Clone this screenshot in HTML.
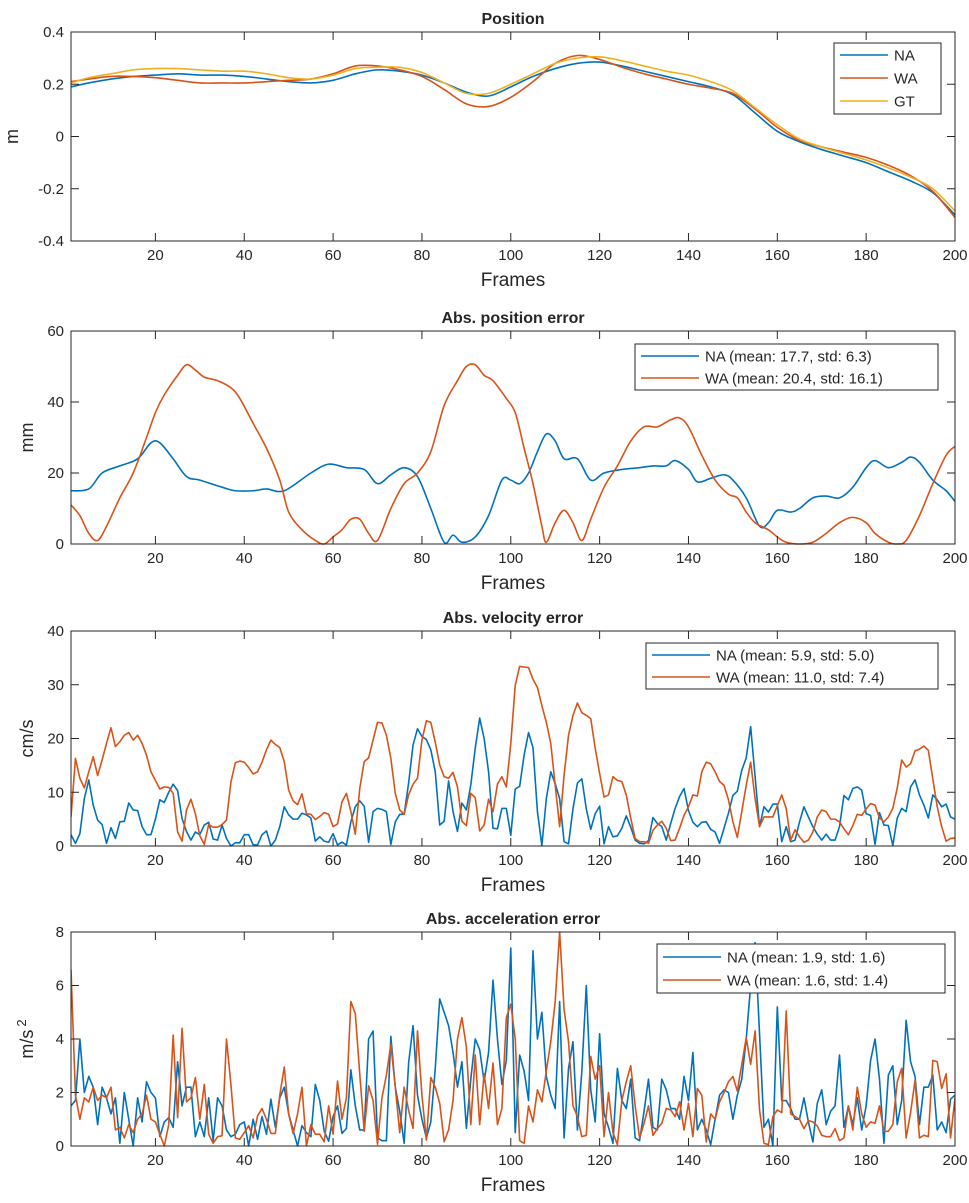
<!DOCTYPE html>
<html><head><meta charset="utf-8">
<style>
html,body{margin:0;padding:0;background:#fff;}
svg{display:block;font-family:"Liberation Sans",Arial,sans-serif;}
</style></head>
<body>
<svg id="fig" width="969" height="1203" viewBox="0 0 969 1203" xmlns="http://www.w3.org/2000/svg"></svg>
<script>
// ---------- DATA ----------
const posFrames = [1,5,10,15,20,25,30,35,40,45,50,55,60,65,70,75,80,85,90,95,100,105,110,115,120,125,130,135,140,145,150,155,160,165,170,175,180,185,190,195,200];
const posNA = [0.19,0.205,0.22,0.23,0.235,0.24,0.235,0.235,0.23,0.22,0.21,0.205,0.215,0.24,0.255,0.25,0.235,0.205,0.17,0.155,0.19,0.23,0.26,0.28,0.285,0.27,0.25,0.23,0.21,0.19,0.16,0.09,0.02,-0.02,-0.05,-0.075,-0.1,-0.135,-0.17,-0.215,-0.3];
const posWA = [0.21,0.22,0.23,0.23,0.225,0.215,0.205,0.205,0.205,0.21,0.215,0.22,0.24,0.27,0.27,0.255,0.23,0.18,0.125,0.115,0.15,0.21,0.28,0.31,0.295,0.265,0.24,0.22,0.2,0.185,0.165,0.105,0.035,-0.015,-0.04,-0.06,-0.08,-0.11,-0.15,-0.21,-0.31];
const posGT = [0.205,0.225,0.24,0.255,0.26,0.26,0.255,0.25,0.25,0.24,0.225,0.22,0.235,0.26,0.265,0.265,0.245,0.205,0.165,0.165,0.2,0.24,0.28,0.3,0.305,0.29,0.27,0.25,0.235,0.21,0.175,0.11,0.045,-0.01,-0.04,-0.065,-0.09,-0.12,-0.155,-0.2,-0.285];

const errFramesNA = [1,5,8,12,16,19,21,24,27,30,35,38,42,45,49,55,59,63,67,70,73,76,79,82,85,87,89,92,95,98,100,102,104,106,108,110,112,115,118,121,125,129,132,135,137,140,142,145,148,150,153,156,158,160,163,165,168,171,174,177,180,182,185,188,190,192,195,198,200];
const errNA = [15,15.5,20,22,24,28.5,28.5,24,19,18,16,15,15,15.5,15,20,22.5,21.5,21,17,19.5,21.5,19,10,0.5,2.5,0.5,2,8,18,18,17,20,26,31,29,24,24,18,20,21,21.5,22,22,23.5,21,17.5,18.5,19.5,18,13,5,6,9.5,9,10,13,13.5,13,16,21.5,23.5,21.5,23,24.5,23,18,15,12];
const errFramesWA = [1,3,5,7,9,12,15,18,20,22,25,27,29,31,34,37,39,42,45,48,50,53,56,58,60,62,64,66,68,70,73,76,79,82,85,88,90,92,94,96,99,101,103,105,107,108,110,112,114,116,118,121,124,127,130,133,136,138,140,143,146,149,151,153,155,158,160,162,165,168,171,174,177,180,182,185,187,189,192,195,198,200];
const errWA = [11,8,3,1,5,13,20,30,37,42,47.5,50.5,49,47,46,44,41,34,27,18,9,4,1,0,2,4,7,7,3,1,10,17,20,26,39,46,50,50.5,47.5,46,41,37,27,17,5,0.5,6,9.5,6,1,7,16,22,29,33,33,35,35.5,33,25,18,14,13,9,6,4,2,0.5,0,0.5,3,6,7.5,6,3,0.5,0,1,8,17,25,27.5];

const velNA = [2.1,0.5,2.3,8.8,12.3,7.6,4.8,4,0.5,3.4,1.4,4.5,4.6,8,6.7,6.6,3.6,2.1,2.1,5,
8.6,8.1,10,11.5,10.3,5.1,2.7,1.1,2.6,2.1,3.9,4.4,1.3,1.1,3.9,1.4,0,0.6,0.6,2.1,
2.1,0.2,0.2,2.1,2.8,0,1.1,3.6,7.3,5.8,5,5,6.1,5.8,5.2,0.9,1.7,0.9,0.7,2.3,
0.2,0.7,0.2,4.5,7.3,8.4,7.4,0.7,6.4,7,6.8,6.4,0.3,4.5,5.9,5.9,11.7,18.8,21.8,20.4,
19.8,17.9,13.8,3.9,4.6,12.1,6.4,2.7,8,6.7,11.4,18.2,23.8,20,13.8,3.3,3.2,7,7,2,
10.6,11.1,16.9,21.1,18.3,6.4,0.1,8.8,13.8,11.6,8.8,0.8,0.4,6.9,11.7,12.5,6.9,3.1,6,7.4,
0.4,3.6,1.7,1.9,3.3,5.6,3.5,1.1,0.5,0.4,1,5.3,4.2,3.6,1.1,4.2,7,9.2,10.7,6.6,
4.4,3.6,4.4,4.5,3.1,2.6,0.5,3.3,6.1,9.4,10.2,14.1,16.4,22.2,12.9,3.6,7.3,6.3,7.8,7.8,
0.8,3.6,0.8,1.1,4.5,7.3,5.4,3.6,2.2,1.1,2.2,1.1,1.1,3.6,9.4,8.6,10.7,11,10.4,6,
5.7,0.3,6.2,3.9,3.8,0.1,5.2,7,6.4,11,12.3,9.5,7.6,5.2,9.5,8.6,7.3,7.8,5.4,5];
const velWA = [5.4,16.3,12.6,10.8,13.8,16.6,13.1,16,19.1,22,18.5,19.4,20.6,21.1,19.7,20.6,19.1,16.9,13.8,12.2,
10.6,11,10.9,9.8,2.6,0.9,6.7,8.7,6,1.9,0.3,4,3.5,3.5,4,4.8,11.9,15.5,15.8,15.6,
14.6,13.4,13.8,15.6,17.9,19.7,18.9,18.3,15.7,10.4,8.4,7.7,9.7,6,5.9,4.9,5.5,6.2,5.9,3.6,
4.1,8.2,9.8,6.4,2.2,10.7,15.7,16.4,19.7,23,22.9,20.6,16.3,9.8,6.7,5.9,9.5,11.5,12.6,19.7,
23.3,23,19.3,15.1,12.9,12.6,13.7,11,4.6,3.8,9.8,9,2.8,3.9,8.7,6.4,11.5,12.9,11,19,
29.9,33.4,33.3,33.2,31,29.5,26.1,23,19.1,11.3,3.6,13.2,20.6,24.3,26.6,24.8,24.3,23.7,18.2,13.5,
9.1,9.5,12.9,12.2,12,9.5,5.2,1.4,0.8,0.8,0.5,2.9,3.9,4.6,3.3,1,1.1,3.3,5.7,7.3,
9.5,9.3,13.8,15.6,15.3,13.8,12,11.3,8.6,4.5,1.6,6.4,11.3,15.6,8.8,3.6,5.4,5.4,5.4,7.5,
9.5,7,1.1,3,1.7,0.7,1.1,2.6,5.4,6.7,6.4,5,5,4.5,3.2,2.1,3.8,5.9,5.7,6.9,
7.9,7.6,5.2,4.5,5.4,7,10.8,16,14.7,15.3,17.7,18,18.6,17.8,12.5,7.3,3.6,0.9,1.4,1.5];

const accNA = [1.5,1.7,4,2,2.6,2.2,0.8,2.2,1.8,1.2,1.8,0.1,2,1,0,1.8,0.9,2.4,2,1.8,
0.35,0.9,1.06,0.7,3.15,1.5,2.2,2.2,0.35,0.9,0.35,1.8,0.2,1.8,1.5,0.6,0.35,0.44,0.8,0.9,
0,1,0.25,1.1,0.44,1.75,0.7,1.8,2.2,1.2,0.6,0,0.76,0.5,0.35,2.3,1.7,0.55,0.18,1.1,
1.5,0.47,0.66,2.85,1.5,0.6,0.6,4,4.3,0.3,0.2,0.2,4.1,2.2,1.3,0.1,3.1,4.5,1.9,1,
0.3,0.9,2.9,5.5,5,4.5,3.5,2.2,3.15,0.66,2.5,4,3.6,2.4,3.5,6.2,4,2.3,3.2,7.4,
0.5,3.4,2.8,1.7,7.3,4,5,2.6,1.9,1.4,5.4,0.3,2.9,3.9,0.6,2.8,6,2.1,0.9,4.2,
1.2,0.7,0.1,2.9,1.7,1.4,2.5,0.3,0.2,1.3,2.5,0.7,0.6,2.5,2.1,1.4,1.4,1,2.6,1.7,
3.5,0.6,1,0.6,0.05,1,1.9,2.1,2,1,1.9,2.5,4,6,7.6,4.2,0.7,1,0,5.2,
1.7,1.7,1.4,1,1,1.8,0.9,0.15,1.6,2.1,0.8,1.3,1.5,3.4,0.7,1.5,0.8,1.8,0.6,1.5,
3.2,4,2.5,0.1,2.65,3,0.8,1.7,4.7,3.15,2.6,0.8,2.2,2.2,2.65,0.6,0.9,0.5,1.75,1.9];
const accWA = [6.6,1.9,1,1.8,1.65,2.2,1.7,1.9,1.8,2.2,0.6,0.7,0.3,0.8,0.5,1,1.2,1.9,1,0.9,
0.44,0,0.8,4.15,1.06,4.4,1.65,1.8,2.56,1,2.3,0.44,0.1,0.35,0.38,4,2.3,0.3,0.25,0.5,
0.76,0.3,1.13,1.4,1,0.47,0.47,1.9,2.95,1.2,0.47,1.2,2.2,0,0.8,0.44,0.44,0.16,1.5,0.44,
2.43,1,1.8,5.4,4.95,2.7,0.55,2.25,1.7,0.06,1.8,2.65,3.8,2.2,0.5,2.2,1.34,0.66,4.3,1.9,
0.22,2.56,2.2,1.6,0.16,0.6,1.7,4,4.8,3.7,0.8,3.4,0.8,2.7,1.4,3.1,0.8,1.4,4.8,5.3,
4,0.2,0.1,1.5,0.9,2.1,1.65,2.8,3.9,5.4,8,5.1,3.9,1.5,1.1,0.35,0.4,3.35,2.5,3,
0.35,2,0.5,0.05,1.7,2.4,3,1.5,0.3,0.85,1.5,0.4,0.65,0.85,1.4,1.35,1.1,1.65,0.6,1.6,
0.35,2.15,1.9,0.15,1.2,1,1.65,2,2.4,2.6,2.05,3.05,4.05,3.05,4.3,1.35,0.1,0.05,1.1,1.35,
1.25,5.05,1.2,1.1,1,0.65,0.95,0.9,0.75,0.4,0.35,0.35,0.65,0.2,0.3,1.5,0.6,2.2,1.2,0.7,
0.9,0.85,1.5,0.55,0.55,0.8,2.4,2.9,0.3,1.25,2.45,0.3,0.4,0.35,3.2,3.15,2.15,2.7,0.3,1.8];

const xTicks = [20,40,60,80,100,120,140,160,180,200];
const posTicks = [-0.4,-0.2,0,0.2,0.4];
const posTickLabels = ["-0.4","-0.2","0","0.2","0.4"];
const errTicks = [0,20,40,60];
const velTicks = [0,10,20,30,40];
const accTicks = [0,2,4,6,8];

// ---------- DRAW ----------
const NS = "http://www.w3.org/2000/svg";
const svg = document.getElementById('fig');
const C = {NA:'#0072BD', WA:'#D95319', GT:'#EDB120'};
const L = 71, R = 955, XMIN = 1, XMAX = 200;
function xs(f){ return L + (f - XMIN) / (XMAX - XMIN) * (R - L); }
function mk(tag, attrs, parent){
  const e = document.createElementNS(NS, tag);
  for (const k in attrs) e.setAttribute(k, attrs[k]);
  (parent || svg).appendChild(e);
  return e;
}
function txt(s, x, y, size, anchor, parent, weight){
  const t = mk('text', {x:x, y:y, 'font-size':size, 'text-anchor':anchor||'middle', fill:'#262626'}, parent);
  if (weight) t.setAttribute('font-weight', weight);
  t.textContent = s;
  return t;
}
function range(n){ const a=[]; for(let i=1;i<=n;i++) a.push(i); return a; }
function smoothPath(pts){
  let d = 'M' + pts[0][0].toFixed(2) + ' ' + pts[0][1].toFixed(2);
  for (let i = 0; i < pts.length - 1; i++){
    const p0 = pts[Math.max(0,i-1)], p1 = pts[i], p2 = pts[i+1], p3 = pts[Math.min(pts.length-1,i+2)];
    const c1x = p1[0] + (p2[0]-p0[0])/6, c1y = p1[1] + (p2[1]-p0[1])/6;
    const c2x = p2[0] - (p3[0]-p1[0])/6, c2y = p2[1] - (p3[1]-p1[1])/6;
    d += 'C' + c1x.toFixed(2)+' '+c1y.toFixed(2)+' '+c2x.toFixed(2)+' '+c2y.toFixed(2)+' '+p2[0].toFixed(2)+' '+p2[1].toFixed(2);
  }
  return d;
}

function panel(cfg){
  const g = mk('g', {});
  
  
  const T = cfg.top, B = cfg.bottom;
  const ys = v => B - (v - cfg.ymin) / (cfg.ymax - cfg.ymin) * (B - T);
  const clipId = 'clip-' + cfg.name;
  const cp = mk('clipPath', {id: clipId}, g);
  mk('rect', {x:L, y:T-1, width:R-L, height:B-T+2}, cp);
  cfg.series.forEach(s => {
    const pts = s.y.map((v, i) => [xs(s.x[i]), ys(v)]);
    let d;
    if (cfg.smooth) d = smoothPath(pts);
    else { d = ''; pts.forEach((p, i) => { d += (i ? 'L' : 'M') + p[0].toFixed(2) + ' ' + p[1].toFixed(2); }); }
    const p = mk('path', {d:d, fill:'none', stroke:s.color, 'stroke-width':1.6, 'stroke-linejoin':'round', 'clip-path':'url(#' + clipId + ')'}, g);
    
    
  });
  const box = mk('rect', {x:L, y:T, width:R-L, height:B-T, fill:'none', stroke:'#262626', 'stroke-width':1}, g);
  
  
  xTicks.forEach(f => {
    const x = xs(f);
    mk('line', {x1:x, x2:x, y1:B, y2:B-8, stroke:'#262626'}, g);
    mk('line', {x1:x, x2:x, y1:T, y2:T+8, stroke:'#262626'}, g);
    const t = txt(String(f), x, B + 19, 15, 'middle', g);
    
    
  });
  cfg.yticks.forEach((v, i) => {
    const y = ys(v);
    mk('line', {x1:L, x2:L+8, y1:y, y2:y, stroke:'#262626'}, g);
    mk('line', {x1:R, x2:R-8, y1:y, y2:y, stroke:'#262626'}, g);
    const t = txt(cfg.ylabels ? cfg.ylabels[i] : String(v), L - 7, y + 5, 15, 'end', g);
    
    
  });
  const tt = txt(cfg.title, (L + R) / 2, T - 8, 16, 'middle', g, 'bold');
  
  
  const xl = txt('Frames', (L + R) / 2, B + 45, 19, 'middle', g);
  
  
  const yl = mk('text', {x:0, y:0, 'font-size':18, 'text-anchor':'middle', fill:'#262626', transform:'translate(' + cfg.ylx + ',' + ((T + B) / 2) + ') rotate(-90)'}, g);
  
  
  yl.textContent = cfg.ylabel;
  if (cfg.ysup) {
    const sp = mk('tspan', {dy:-7, 'font-size':13, dx:3}, yl);
    sp.textContent = cfg.ysup;
  }
  const lg = cfg.legend;
  const lgG = mk('g', {}, g);
  
  
  mk('rect', {x:lg.x, y:lg.y, width:lg.w, height:lg.h, fill:'#fff', stroke:'#262626', 'stroke-width':1}, lgG);
  cfg.series.forEach((s, i) => {
    const cy = lg.y + lg.pad + i * lg.step;
    const e = mk('g', {}, lgG);
    
    
    mk('line', {x1:lg.x + 6, x2:lg.x + 6 + lg.line, y1:cy, y2:cy, stroke:s.color, 'stroke-width':1.6}, e);
    txt(s.label, lg.x + 12 + lg.line, cy + 5.5, 15, 'start', e);
  });
}

panel({name:'position-panel', title:'Position', top:32, bottom:241, ymin:-0.4, ymax:0.4, smooth:true,
  yticks:posTicks, ylabels:posTickLabels, ylabel:'m', ylx:18,
  series:[{key:'NA', label:'NA', color:C.NA, x:posFrames, y:posNA},
          {key:'WA', label:'WA', color:C.WA, x:posFrames, y:posWA},
          {key:'GT', label:'GT', color:C.GT, x:posFrames, y:posGT}],
  legend:{x:834, y:43, w:107, h:71, pad:12, step:23, line:48}});

panel({name:'position-error-panel', title:'Abs. position error', top:331, bottom:544, ymin:0, ymax:60, smooth:true,
  yticks:errTicks, ylabel:'mm', ylx:33,
  series:[{key:'NA', label:'NA (mean: 17.7, std: 6.3)', color:C.NA, x:errFramesNA, y:errNA},
          {key:'WA', label:'WA (mean: 20.4, std: 16.1)', color:C.WA, x:errFramesWA, y:errWA}],
  legend:{x:635, y:344, w:303, h:46, pad:12, step:22, line:58}});

panel({name:'velocity-error-panel', title:'Abs. velocity error', top:631, bottom:846, ymin:0, ymax:40,
  yticks:velTicks, ylabel:'cm/s', ylx:33,
  series:[{key:'NA', label:'NA (mean: 5.9, std: 5.0)', color:C.NA, x:range(200), y:velNA},
          {key:'WA', label:'WA (mean: 11.0, std: 7.4)', color:C.WA, x:range(200), y:velWA}],
  legend:{x:646, y:643, w:292, h:46, pad:12, step:22, line:58}});

panel({name:'acceleration-error-panel', title:'Abs. acceleration error', top:932, bottom:1146, ymin:0, ymax:8,
  yticks:accTicks, ylabel:'m/s', ysup:'2', ylx:33,
  series:[{key:'NA', label:'NA (mean: 1.9, std: 1.6)', color:C.NA, x:range(200), y:accNA},
          {key:'WA', label:'WA (mean: 1.6, std: 1.4)', color:C.WA, x:range(200), y:accWA}],
  legend:{x:657, y:944, w:288, h:49, pad:13, step:23, line:58}});
</script>
</body></html>
